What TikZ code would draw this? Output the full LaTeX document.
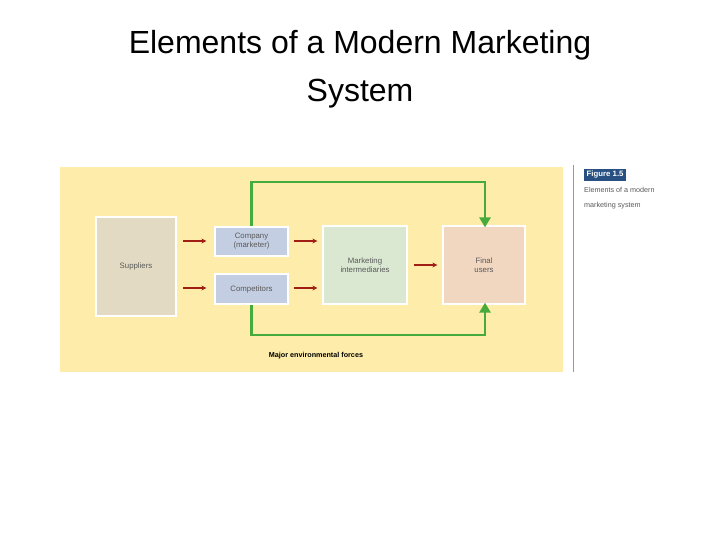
\documentclass[tikz,border=0pt]{standalone}
\usepackage{fontspec}
\setmainfont{Liberation Sans}
\usetikzlibrary{arrows.meta}
\definecolor{panel}{RGB}{253,236,170}
\definecolor{supc}{RGB}{226,218,194}
\definecolor{comc}{RGB}{196,206,226}
\definecolor{mic}{RGB}{218,232,210}
\definecolor{fuc}{RGB}{241,214,192}
\definecolor{redc}{RGB}{160,30,20}
\definecolor{grnc}{RGB}{70,170,60}
\definecolor{figc}{RGB}{40,80,130}
\begin{document}
\begin{tikzpicture}[x=1pt,y=-1pt,
  box/.style={draw=white,line width=1.2pt,inner sep=0pt,font=\fontsize{7.8}{9}\selectfont\color{black!65},align=center},
  red/.style={draw=redc,line width=1.4pt,-{Stealth[length=5pt,width=5pt]}},
  grn/.style={draw=grnc,line width=2.4pt}]
\useasboundingbox (0,0) rectangle (720,540);
\node[font=\fontsize{32}{48}\selectfont,align=center] (title) at (360,69) {Elements of a Modern Marketing\\System};
\fill[panel] (60,167) rectangle (563,372);
\draw[black!40,line width=0.6pt] (573,165) -- (573,372);
\node[box,fill=supc,minimum width=80pt,minimum height=99pt] (sup) at (136,266.5) {Suppliers};
\node[box,fill=comc,minimum width=73pt,minimum height=29pt] (com) at (251.5,241.5) {Company\\(marketer)};
\node[box,fill=comc,minimum width=73pt,minimum height=30pt] (cmp) at (251.5,289) {Competitors};
\node[box,fill=mic,minimum width=84pt,minimum height=78pt] (mi) at (365,265) {Marketing\\intermediaries};
\node[box,fill=fuc,minimum width=82pt,minimum height=78pt] (fu) at (484,265) {Final\\users};
\coordinate (a1) at (183,241); \coordinate (a2) at (183,288);
\draw[red] (a1) -- ([xshift=-8pt]com.west|-a1);
\draw[red] (a2) -- ([xshift=-8pt]cmp.west|-a2);
\coordinate (b1) at (294,241); \coordinate (b2) at (294,288);
\draw[red] (b1) -- ([xshift=-5pt]mi.west|-b1);
\draw[red] (b2) -- ([xshift=-5pt]mi.west|-b2);
\coordinate (c1) at (414,265);
\draw[red] (c1) -- ([xshift=-5pt]fu.west|-c1);
\coordinate (t1) at (251.5,182); \coordinate (t2) at (485,182);
\coordinate (u1) at (251.5,335); \coordinate (u2) at (485,335);
\draw[grn,-{Triangle[length=10pt,width=11pt]}] (com.north) -- (t1) -- (t2) -- ([yshift=-2pt]t2|-fu.north);
\draw[grn,-{Triangle[length=10pt,width=11pt]}] (cmp.south) -- (u1) -- (u2) -- ([yshift=2pt]u2|-fu.south);
\node[font=\fontsize{7.2}{8}\selectfont\bfseries] (env) at (316,356) {Major environmental forces};
\node[fill=figc,text=white,font=\fontsize{7.8}{9}\selectfont\bfseries,inner sep=2.5pt,anchor=west] (fig) at (584,175) {Figure 1.5};
\node[anchor=north west,align=left,font=\fontsize{7.2}{15}\selectfont\color{black!65},inner sep=0pt] (cap) at (584,187) {Elements of a modern\\marketing system};
\end{tikzpicture}
\end{document}
